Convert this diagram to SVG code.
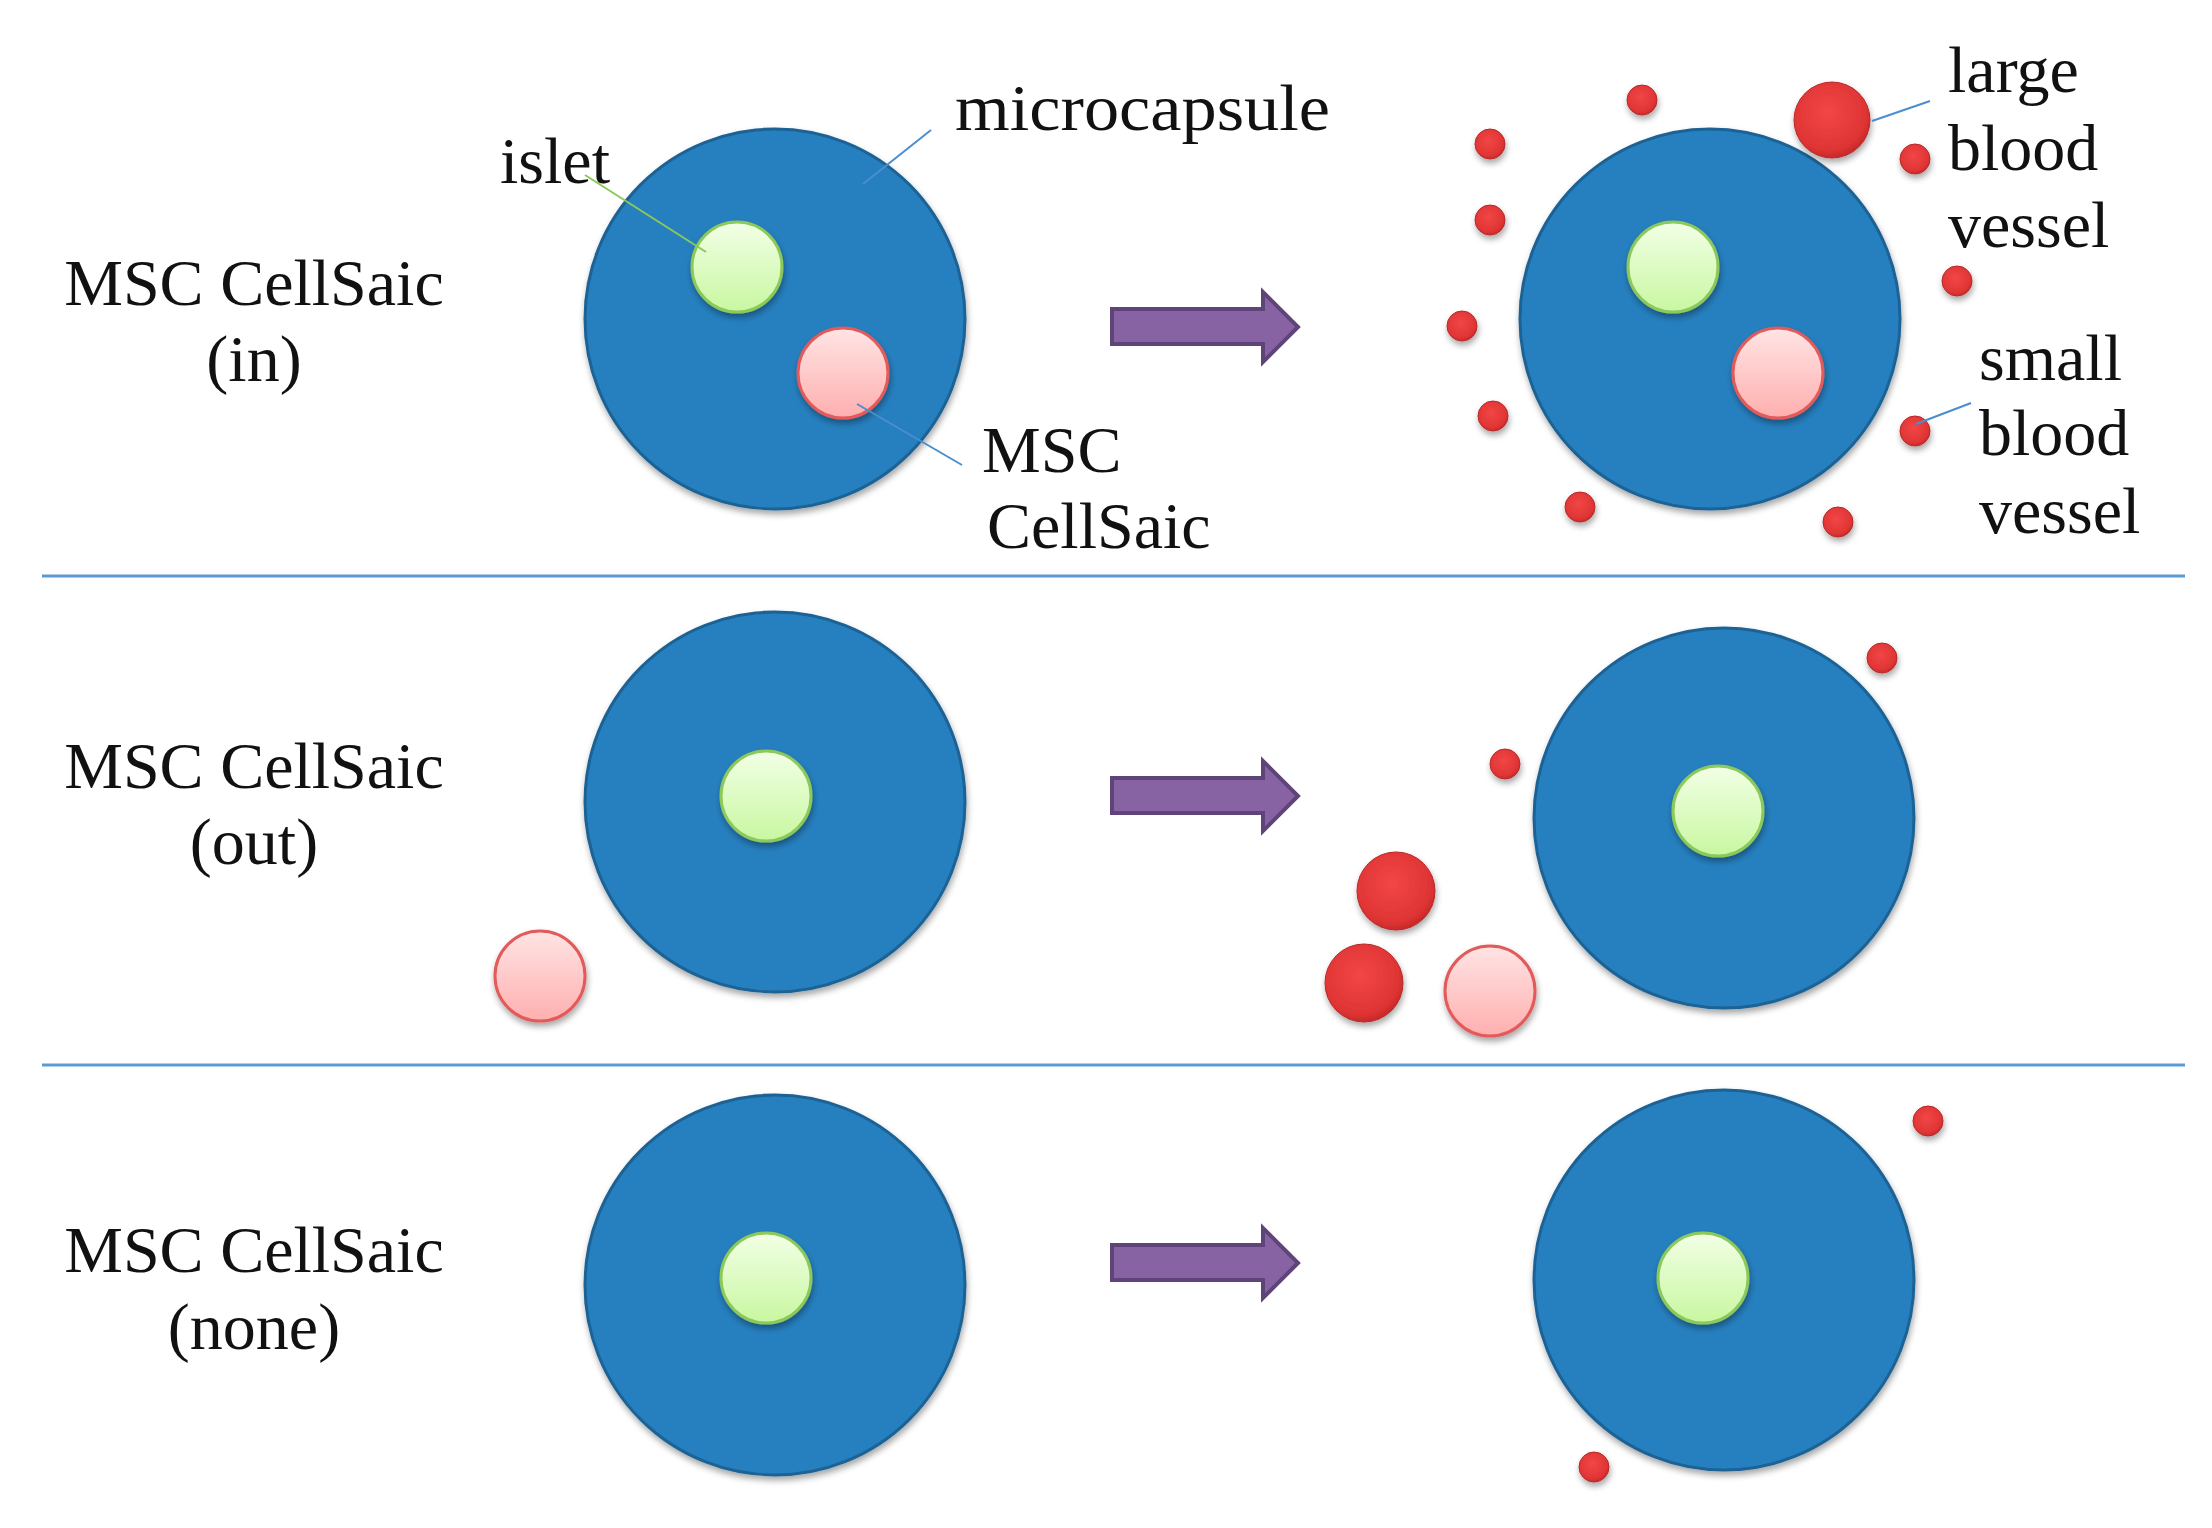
<svg xmlns="http://www.w3.org/2000/svg" width="2212" height="1528" viewBox="0 0 2212 1528">
<defs>
<linearGradient id="gIslet" x1="0" y1="0" x2="0" y2="1"><stop offset="0" stop-color="#F2FFE6"/><stop offset="1" stop-color="#C8F7A0"/></linearGradient>
<linearGradient id="gMsc" x1="0" y1="0" x2="0" y2="1"><stop offset="0" stop-color="#FFE4E4"/><stop offset="1" stop-color="#FFAFAF"/></linearGradient>
<radialGradient id="gRed" cx="0.45" cy="0.4" r="0.65"><stop offset="0" stop-color="#F24646"/><stop offset="0.75" stop-color="#E03535"/><stop offset="1" stop-color="#BE2424"/></radialGradient>
<filter id="sh" x="-30%" y="-30%" width="160%" height="170%"><feDropShadow dx="1" dy="4" stdDeviation="3" flood-color="#000" flood-opacity="0.35"/></filter>
</defs>
<style>
.cap{fill:#2580BF;stroke:#1D6294;stroke-width:3;filter:url(#sh)}
.isl{fill:url(#gIslet);stroke:#8CC85A;stroke-width:3;filter:url(#sh)}
.msc{fill:url(#gMsc);stroke:#E25A5A;stroke-width:3;filter:url(#sh)}
.red{fill:url(#gRed);stroke:#B82828;stroke-width:1;filter:url(#sh)}
.arr{fill:#8863A4;stroke:#5E4479;stroke-width:4;stroke-linejoin:miter}
.lead{stroke:#4A8ED0;stroke-width:2;fill:none}
.sep{stroke:#5B9BD5;stroke-width:3}
text{font-family:"Liberation Serif","Times New Roman",serif;font-size:66px;fill:#111}
.c{text-anchor:middle}
</style>
<rect width="2212" height="1528" fill="#fff"/>
<g id="separators">
<line class="sep" x1="42" y1="576" x2="2185" y2="576"/>
<line class="sep" x1="42" y1="1065" x2="2185" y2="1065"/>
</g>
<g id="row-labels">
<text class="c" x="254" y="305">MSC CellSaic</text>
<text class="c" x="254" y="381">(in)</text>
<text class="c" x="254" y="788">MSC CellSaic</text>
<text class="c" x="254" y="864">(out)</text>
<text class="c" x="254" y="1272">MSC CellSaic</text>
<text class="c" x="254" y="1349">(none)</text>
</g>
<g id="row1-left">
<circle class="cap" cx="775" cy="319" r="190"/>
<circle class="isl" cx="737" cy="267" r="45"/>
<circle class="msc" cx="843" cy="373" r="45"/>
</g>
<g id="row1-right">
<circle class="cap" cx="1710" cy="319" r="190"/>
<circle class="isl" cx="1673" cy="267" r="45"/>
<circle class="msc" cx="1778" cy="373" r="45"/>
<circle class="red" cx="1642" cy="100" r="15"/>
<circle class="red" cx="1490" cy="144" r="15"/>
<circle class="red" cx="1490" cy="220" r="15"/>
<circle class="red" cx="1462" cy="326" r="15"/>
<circle class="red" cx="1493" cy="416" r="15"/>
<circle class="red" cx="1580" cy="507" r="15"/>
<circle class="red" cx="1838" cy="522" r="15"/>
<circle class="red" cx="1915" cy="159" r="15"/>
<circle class="red" cx="1957" cy="281" r="15"/>
<circle class="red" cx="1915" cy="431" r="15"/>
<circle class="red" cx="1832" cy="120" r="38"/>
</g>
<g id="row2-left">
<circle class="cap" cx="775" cy="802" r="190"/>
<circle class="isl" cx="766" cy="796" r="45"/>
<circle class="msc" cx="540" cy="976" r="45"/>
</g>
<g id="row2-right">
<circle class="cap" cx="1724" cy="818" r="190"/>
<circle class="isl" cx="1718" cy="811" r="45"/>
<circle class="red" cx="1882" cy="658" r="15"/>
<circle class="red" cx="1505" cy="764" r="15"/>
<circle class="red" cx="1396" cy="891" r="39"/>
<circle class="red" cx="1364" cy="983" r="39"/>
<circle class="msc" cx="1490" cy="991" r="45"/>
</g>
<g id="row3-left">
<circle class="cap" cx="775" cy="1285" r="190"/>
<circle class="isl" cx="766" cy="1278" r="45"/>
</g>
<g id="row3-right">
<circle class="cap" cx="1724" cy="1280" r="190"/>
<circle class="isl" cx="1703" cy="1278" r="45"/>
<circle class="red" cx="1928" cy="1121" r="15"/>
<circle class="red" cx="1594" cy="1467" r="15"/>
</g>
<g id="connectors">
<line x1="585" y1="175" x2="706" y2="252" stroke="#8CC85A" stroke-width="2"/>
<line class="lead" x1="931" y1="130" x2="863" y2="184"/>
<line class="lead" x1="857" y1="404" x2="962" y2="465"/>
<line class="lead" x1="1872" y1="121" x2="1930" y2="101"/>
<line class="lead" x1="1916" y1="424" x2="1971" y2="403"/>
<path class="arr" d="M1112,309 H1263 V292 L1298,327 L1263,362 V344 H1112 Z"/>
<path class="arr" d="M1112,778 H1263 V761 L1298,796 L1263,831 V813 H1112 Z"/>
<path class="arr" d="M1112,1245 H1263 V1228 L1298,1263 L1263,1298 V1280 H1112 Z"/>
</g>
<g id="labels">
<text x="500" y="183">islet</text>
<text x="955" y="130" textLength="375" lengthAdjust="spacingAndGlyphs">microcapsule</text>
<text x="982" y="472">MSC</text>
<text x="987" y="548">CellSaic</text>
<text x="1948" y="92">large</text>
<text x="1948" y="170">blood</text>
<text x="1948" y="247">vessel</text>
<text x="1979" y="380">small</text>
<text x="1979" y="455">blood</text>
<text x="1979" y="533">vessel</text>
</g>
</svg>
